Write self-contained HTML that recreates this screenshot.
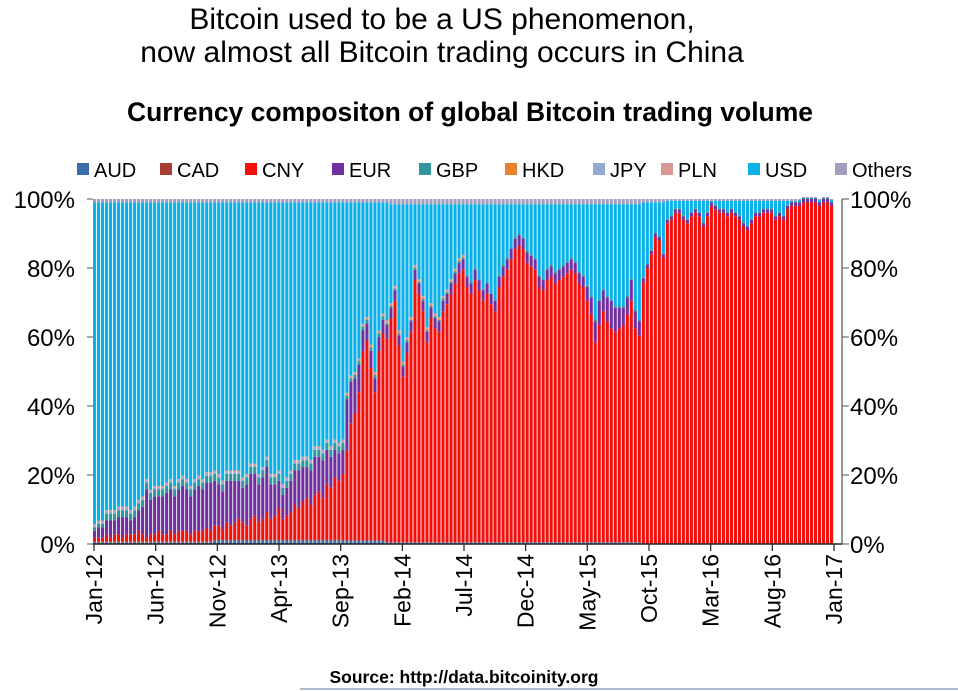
<!DOCTYPE html>
<html><head><meta charset="utf-8">
<style>
body{margin:0;background:#fff;width:958px;height:691px;overflow:hidden;font-family:"Liberation Sans",sans-serif;}
svg{display:block}
</style></head>
<body>
<svg id="chart" width="958" height="691" xmlns="http://www.w3.org/2000/svg" font-family="Liberation Sans, sans-serif">
<text x="442" y="29" font-size="30" text-anchor="middle">Bitcoin used to be a US phenomenon,</text>
<text x="442" y="62" font-size="30" text-anchor="middle">now almost all Bitcoin trading occurs in China</text>
<text x="470" y="121" font-size="26.5" font-weight="bold" text-anchor="middle">Currency compositon of global Bitcoin trading volume</text>
<g id="legend"></g>
<g id="bars"></g>
<g id="axes"></g>
<text x="464" y="683" font-size="17.5" font-weight="bold" text-anchor="middle">Source: http://data.bitcoinity.org</text>
<line x1="300" y1="689" x2="958" y2="689" stroke="#8ea3bd" stroke-width="1.5"/>
</svg>
<script>
const currencies = ["AUD","CAD","CNY","EUR","GBP","HKD","JPY","PLN","USD","Others"];
const colors = ["#3a6ea8","#a83c32","#f2100d","#7030a0","#31979d","#e8822e","#92a9d1","#d99795","#0ab0e8","#a39ebd"];
const xTickLabels = ["Jan-12","Jun-12","Nov-12","Apr-13","Sep-13","Feb-14","Jul-14","Dec-14","May-15","Oct-15","Mar-16","Aug-16","Jan-17"];
const yTickLabels = ["0%","20%","40%","60%","80%","100%"];
const yTickValues = [0,20,40,60,80,100];
const CNY = [1,1,1,2,1,2,2,1,2,2,2,3,2,1,2,
2,3,2,2,3,2,3,3,3,2,3,3,3,4,3,4,
4,3,5,4,5,6,5,4,6,7,5,6,8,6,7,9,
6,7,8,10,9,11,12,10,13,14,12,16,15,18,17,19,
26,34,37,43,55,58,50,43,55,60,59,65,70,57,48,55,61,76,72,67,58,65,62,61,67,69,72,75,78,79,74,72,76,73,70,72,69,67,74,77,79,82,85,86,85,81,80,79,74,73,76,77,75,76,77,78,79,78,75,74,70,66,58,63,67,64,62,61,62,63,66,70,62,60,
76,80,84,89,88,83,93,94,96,96,94,93,95,96,95,92,95,98,97,96,96,95,96,95,94,92,91,93,95,95,96,96,96,94,95,94,97,98,98,98,99,99,99,99,98,99,99,98];
const EUR = [2,3,3,4,5,4,5,6,5,4,5,6,8,14,10,
11,10,11,12,12,11,12,13,12,11,12,13,12,13,14,13,
12,11,12,13,12,11,10,12,13,12,11,12,13,10,9,8,
7,8,9,10,11,10,9,10,11,10,11,10,9,8,8,7,
15,12,10,8,6,5,5,4,4,4,4,3,3,
3,3,3,3,3,3,3,3,3,3,3,3,3,3,3,3,3,3,3,3,3,3,3,3,3,3,3,3,3,3,3,3,3,3,3,3,3,3,3,3,3,3,3,3,3,3,3,
4,5,6,7,6,7,8,7,6,5,5,6,5,4,
1,1,1,1,1,1,1,1,1,1,1,1,1,1,1,1,1,1,1,1,1,1,1,1,1,1,1,1,1,1,1,1,1,1,1,1,1,1,1,1,1,1,1,1,1,1,1,1];
const GBP = [1,1,1,2,2,2,2,2,2,2,2,2,2,2,2,2,2,2,2,2,2,2,2,2,2,2,2,2,2,2,2,2,2,2,2,2,2,2,2,2,2,2,2,2,2,2,2,2,2,2,2,2,2,2,2,2,2,2,2,2,2,2,2,
1,1,1,1,1,1,1,1,1,1,0.5,0.5,0.5,0.5,0.5,0.5,0.5,0.5,0.5,0.5,0.5,0.5,0.5,0.5,0.5,0.5,0.5,0.5,0.5,0.5,0.5,0.5,0.5,0.5,0.5,0.5,0.5,0.5,0.5,0.5,0.5,0.5,0.5,0.5,0.5,0.5,0.5,0.5,0.5,0.5,0.5,0.5,0.5,0.5,0.5,0.5,0.5,0.5,0.5,0.5,0.5,0.5,0.5,0.5,0.5,0.5,0.5,0.5,0.5,0.5,0.5,0.5,0.5,0.5,
0.3,0.3,0.3,0.3,0.3,0.3,0.3,0.3,0.3,0.3,0.3,0.3,0.3,0.3,0.3,0.3,0.3,0.3,0.3,0.3,0.3,0.3,0.3,0.3,0.3,0.3,0.3,0.3,0.3,0.3,0.3,0.3,0.3,0.3,0.3,0.3,0.3,0.3,0.3,0.3,0.3,0.3,0.3,0.3,0.3,0.3,0.3,0.3];
const AUD = [0.5,0.5,0.5,0.5,0.5,0.5,0.5,0.5,0.5,0.5,0.5,0.5,0.5,0.5,0.5,0.5,0.5,0.5,0.5,0.5,0.5,0.5,0.5,0.5,0.5,0.5,0.5,0.5,0.5,0.5,1,1,1,1,1,1,1,1,1,1,1,1,1,1,1,1,1,1,1,1,1,1,1,1,1,1,1,1,1,1,1,1,1,
1,1,1,1,1,1,1,1,1,1,0.5,0.5,0.5,0.5,0.5,0.5,0.5,0.5,0.5,0.5,0.5,0.5,0.5,0.5,0.5,0.5,0.5,0.5,0.5,0.5,0.5,0.5,0.5,0.5,0.5,0.5,0.5,0.5,0.5,0.5,0.5,0.5,0.5,0.5,0.5,0.5,0.5,0.5,0.5,0.5,0.5,0.5,0.5,0.5,0.5,0.5,0.5,0.5,0.5,0.5,0.5,0.5,0.5,0.5,0.5,0.5,0.5,0.5,0.5,0.5,0.5,0.5,0.5,0.5];
const CAD = [0.3,0.3,0.3,0.3,0.3,0.3,0.3,0.3,0.3,0.3,0.3,0.3,0.3,0.3,0.3,0.3,0.3,0.3,0.3,0.3,0.3,0.3,0.3,0.3,0.3,0.3,0.3,0.3,0.3,0.3,0.3,0.3,0.3,0.3,0.3,0.3,0.3,0.3,0.3,0.3,0.3,0.3,0.3,0.3,0.3,0.3,0.3,0.3,0.3,0.3,0.3,0.3,0.3,0.3,0.3,0.3,0.3,0.3,0.3,0.3,0.3,0.3,0.3];
const HKD = [0,0,0,0,0,0,0,0,0,0,0,0,0,0,0,0,0,0,0,0,0,0,0,0,0,0,0,0,0,0,0,0,0,0,0,0,0,0,0,0,0,0,0,0,0,0,0,0,0,0,0,0,0,0,0,0,0,0,0,0,0,0,0,
0.3,0.3,0.3,0.3,0.3,0.3,0.3,0.3,0.3,0.3,0.3,0.3,0.3,0.3,0.3,0.3,0.3,0.3,0.3,0.3,0.3,0.3,0.3,0.3,0.3,0.3,0.3,0.3,0.3,0.3];
const JPY = [0.5,0.5,0.5,0.5,0.5,0.5,0.5,0.5,0.5,0.5,0.5,0.5,0.5,0.5,0.5,0.5,0.5,0.5,0.5,0.5,0.5,0.5,0.5,0.5,0.5,0.5,0.5,0.5,0.5,0.5,0.5,0.5,0.5,0.5,0.5,0.5,0.5,0.5,0.5,0.5,0.5,0.5,0.5,0.5,0.5,0.5,0.5,0.5,0.5,0.5,0.5,0.5,0.5,0.5,0.5,0.5,0.5,0.5,0.5,0.5,0.5,0.5,0.5];
const PLN = [0.5,0.5,0.5,0.5,0.5,0.5,0.5,0.5,0.5,0.5,0.5,0.5,0.5,0.5,0.5,0.5,0.5,0.5,0.5,0.5,0.5,0.5,0.5,0.5,0.5,0.5,0.5,0.5,0.5,0.5,0.5,0.5,0.5,0.5,0.5,0.5,0.5,0.5,0.5,0.5,0.5,0.5,0.5,0.5,0.5,0.5,0.5,0.5,0.5,0.5,0.5,0.5,0.5,0.5,0.5,0.5,0.5,0.5,0.5,0.5,0.5,0.5,0.5,
0.5,0.5,0.5,0.5,0.5,0.5,0.5,0.5,0.5,0.5,0.5,0.5,0.5,0.5,0.5,0.5,0.5,0.5,0.5,0.5,0.5,0.5,0.5,0.5,0.5,0.5,0.5,0.5,0.5,0.5];
const OTH = [1,1,1,1,1,1,1,1,1,1,1,1,1,1,1,1,1,1,1,1,1,1,1,1,1,1,1,1,1,1,1,1,1,1,1,1,1,1,1,1,1,1,1,1,1,1,1,1,1,1,1,1,1,1,1,1,1,1,1,1,1,1,1,
1,1,1,1,1,1,1,1,1,1,1,1.5,1.5,1.5,1.5,1.5,1.5,1.5,1.5,1.5,1.5,1.5,1.5,1.5,1.5,1.5,1.5,1.5,1.5,1.5,1.5,1.5,1.5,1.5,1.5,1.5,1.5,1.5,1.5,1.5,1.5,1.5,1.5,1.5,1.5,1.5,1.5,1.5,1.5,1.5,1.5,1.5,1.5,1.5,1.5,1.5,1.5,1.5,1.5,1.5,1.5,1.5,1.5,1.5,1.5,1.5,1.5,1.5,1.5,1.5,1.5,1.5,1.5,1.5,
1,1,1,1,1,1,0.5,0.5,0.5,0.5,0.5,0.5,0.5,0.5,0.5,0.5,0.5,0.5,0.5,0.5,0.5,0.5,0.5,0.5,0.5,0.5,0.5,0.5,0.5,0.5,0.5,0.5,0.5,0.5,0.5,0.5,0.5,0.5,0.5,0.3,0.3,0.3,0.3,0.3,0.3,0.3,0.3,0.3];

const NS = "http://www.w3.org/2000/svg";
const plotL = 93, plotR = 834, y0 = 544, y100 = 199;
const nBars = CNY.length;
const step = (plotR - plotL) / nBars;
function xScale(i){ return plotL + i * step; }
function yScale(v){ return y0 - (v / 100) * (y0 - y100); }
function mk(tag, attrs, parent){ const e = document.createElementNS(NS, tag); for (const k in attrs) e.setAttribute(k, attrs[k]); parent.appendChild(e); return e; }

const barsG = document.getElementById('bars');
const series = [AUD, CAD, CNY, EUR, GBP, HKD, JPY, PLN, null, OTH];
for (let i = 0; i < nBars; i++) {
  const vals = series.map(s => s ? (s[i] || 0) : 0);
  const nonUsd = vals.reduce((a,b)=>a+b,0);
  vals[8] = Math.max(0, 100 - nonUsd);
  let cum = 0;
  for (let k = 0; k < vals.length; k++) {
    const v = vals[k];
    if (v <= 0) continue;
    const yTop = yScale(cum + v), yBot = yScale(cum);
    const r = mk('rect', {x: xScale(i).toFixed(2), y: yTop.toFixed(2), width: (step*0.78).toFixed(2), height: (yBot - yTop).toFixed(2), fill: colors[k]}, barsG);
    
    
    cum += v;
  }
}

const axesG = document.getElementById('axes');
const xAxis = mk('line', {x1: plotL, y1: y0, x2: 842, y2: y0, stroke: '#222', 'stroke-width': 1.5}, axesG);


const rAxis = mk('line', {x1: 842, y1: y100, x2: 842, y2: y0, stroke: '#555', 'stroke-width': 1.2}, axesG);


yTickValues.forEach((v, j) => {
  const y = yScale(v);
  const lt = mk('line', {x1: 87, y1: y, x2: 93, y2: y, stroke: '#555'}, axesG);
  
  
  const rt = mk('line', {x1: 842, y1: y, x2: 849, y2: y, stroke: '#555'}, axesG);
  
  
  const lLab = mk('text', {x: 75, y: y + 9, 'font-size': 24, 'text-anchor': 'end'}, axesG);
  lLab.textContent = yTickLabels[j];
  
  
  const rLab = mk('text', {x: 850, y: y + 9, 'font-size': 24, 'text-anchor': 'start'}, axesG);
  rLab.textContent = yTickLabels[j];
  
  
});
const xTickStart = 94, xTickEnd = 834;
xTickLabels.forEach((lab, j) => {
  const x = xTickStart + j * (xTickEnd - xTickStart) / (xTickLabels.length - 1);
  const t = mk('line', {x1: x, y1: y0, x2: x, y2: y0 + 7, stroke: '#222', 'stroke-width': 1.2}, axesG);
  
  
  const tx = mk('text', {x: 0, y: 0, 'font-size': 23, 'text-anchor': 'end', transform: `translate(${x + 8},${y0 + 10}) rotate(-90)`}, axesG);
  tx.textContent = lab;
  
  
});

const legendG = document.getElementById('legend');
const legendX = [77,160,245,332,419,505,593,661,748,835];
currencies.forEach((c, k) => {
  const sq = mk('rect', {x: legendX[k], y: 163, width: 12, height: 12, fill: colors[k]}, legendG);
  
  
  const t = mk('text', {x: legendX[k] + 17, y: 177, 'font-size': 20}, legendG);
  t.textContent = c;
  
  
});
</script>
</body></html>
